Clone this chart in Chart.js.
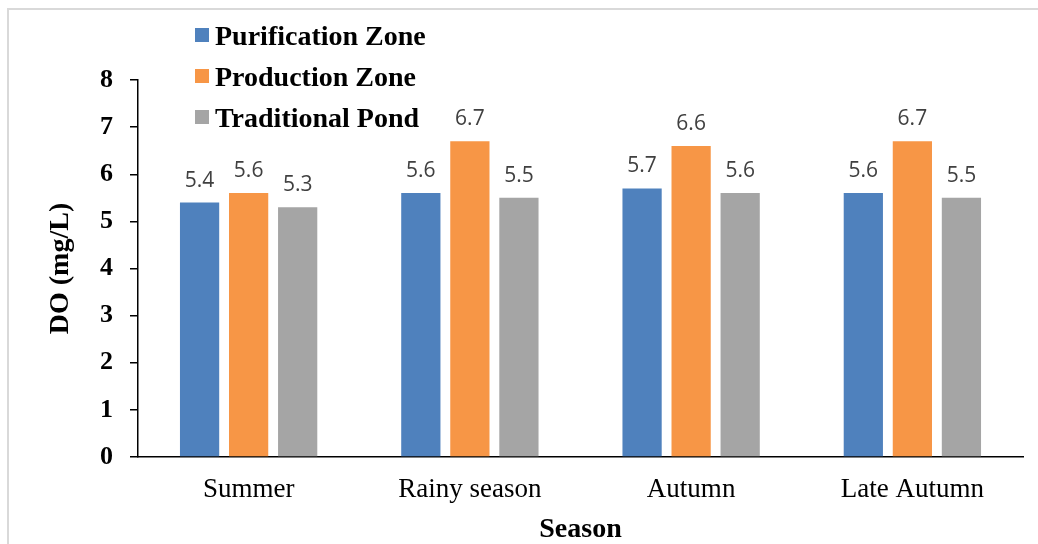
<!DOCTYPE html>
<html>
<head>
<meta charset="utf-8">
<script src="https://cdn.jsdelivr.net/npm/chart.js@4/dist/chart.umd.min.js"></script>
<style>
  html, body { margin: 0; padding: 0; background: #fff; overflow: hidden; }
  #frame { position: absolute; left: 7px; top: 8px; width: 1100px; height: 600px;
           border: 2px solid #d9d9d9; box-sizing: border-box; }
  #c { position: absolute; left: 0; top: 0; }
</style>
</head>
<body>
<div id="frame"></div>
<canvas id="c" width="1038" height="544"></canvas>
<script>
// Dissolved oxygen by season and zone
const seasons = ['Summer', 'Rainy season', 'Autumn', 'Late Autumn'];
const purificationZone = [5.4, 5.6, 5.7, 5.6];
const productionZone = [5.6, 6.7, 6.6, 6.7];
const traditionalPond = [5.3, 5.5, 5.6, 5.5];
const seriesNames = ['Purification Zone', 'Production Zone', 'Traditional Pond'];
const seriesColors = ['#4f81bd', '#f79646', '#a5a5a5'];

const serif = '"Liberation Serif", "Times New Roman", serif';

// Value printed above each bar
const valueLabels = {
  id: 'valueLabels',
  afterDatasetsDraw(chart) {
    const ctx = chart.ctx;
    ctx.save();
    ctx.font = '21px "Open Sans", sans-serif';
    ctx.fillStyle = '#404040';
    ctx.textAlign = 'center';
    ctx.textBaseline = 'alphabetic';
    chart.data.datasets.forEach((ds, i) => {
      chart.getDatasetMeta(i).data.forEach((bar, j) => {
        ctx.fillText(ds.data[j].toFixed(1), bar.x, bar.y - 16);
      });
    });
    ctx.restore();
  }
};

// Vertical legend in the upper left corner
const stackedLegend = {
  id: 'stackedLegend',
  afterDraw(chart) {
    const ctx = chart.ctx;
    ctx.save();
    ctx.font = 'bold 28px ' + serif;
    ctx.textBaseline = 'alphabetic';
    ctx.textAlign = 'left';
    chart.data.datasets.forEach((ds, i) => {
      const base = 45 + i * 41;
      ctx.fillStyle = ds.backgroundColor;
      ctx.fillRect(195, base - 17, 14, 14);
      ctx.fillStyle = '#000';
      ctx.fillText(ds.label, 215, base);
    });
    ctx.restore();
  }
};

const datasets = [purificationZone, productionZone, traditionalPond].map((values, i) => ({
  label: seriesNames[i],
  data: values,
  backgroundColor: seriesColors[i],
  categoryPercentage: 0.665,
  barPercentage: 0.8
}));

new Chart(document.getElementById('c'), {
  type: 'bar',
  data: { labels: seasons, datasets },
  options: {
    responsive: false,
    animation: false,
    devicePixelRatio: 1,
    layout: { padding: { top: 80, right: 15, left: 0, bottom: 0 } },
    plugins: { legend: { display: false }, tooltip: { enabled: false } },
    scales: {
      x: {
        ticks: { color: '#000', font: { family: serif, size: 27 }, padding: 17 },
        grid: { display: false, drawTicks: false },
        border: { color: '#000', width: 1.5 },
        title: { display: true, text: 'Season', color: '#000',
                 font: { family: serif, size: 28, weight: 'bold' }, padding: { top: 0, bottom: -3 } },
        afterFit(s) { s.height = 87; }
      },
      y: {
        min: 0, max: 8,
        ticks: { stepSize: 1, color: '#000', font: { family: serif, size: 26, weight: 'bold' }, padding: 17 },
        grid: { drawOnChartArea: false, drawTicks: true, tickLength: 8, color: '#000', lineWidth: 1.5 },
        border: { color: '#000', width: 1.5 },
        title: { display: true, text: 'DO (mg/L)', color: '#000',
                 font: { family: serif, size: 28, weight: 'bold' }, padding: { top: 44, bottom: 0 } },
        afterFit(s) { s.width = 138; }
      }
    }
  },
  plugins: [valueLabels, stackedLegend]
});
</script>
</body>
</html>
